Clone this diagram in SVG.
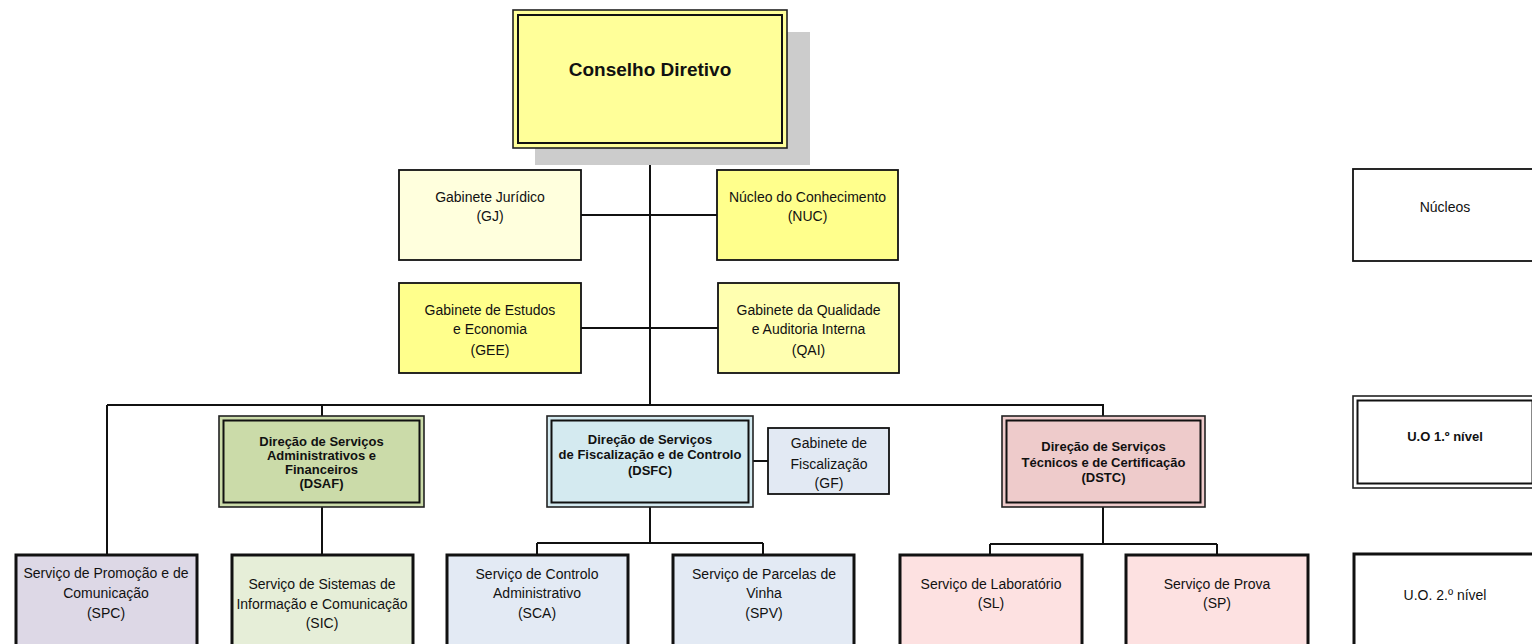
<svg xmlns="http://www.w3.org/2000/svg" width="1532" height="644" viewBox="0 0 1532 644">
<style>
text{font-family:"Liberation Sans",Arial,sans-serif;fill:#111;text-anchor:middle}
.n{font-size:14px}
.b{font-size:13px;font-weight:bold}
.t{font-size:19px;font-weight:bold}
.thin{stroke:#111;stroke-width:1.8}
.thick{stroke:#111;stroke-width:3}
.o{stroke:#222;stroke-width:1.6}
.i{fill:none;stroke:#111;stroke-width:2}
.c{fill:none;stroke:#111;stroke-width:2}
</style>
<rect width="1532" height="644" fill="#fff"/>
<g id="connectors">
<path class="c" d="M650 148V405M581 215H717M581 328H718M107 405H1104M107 405V554M322 405V416M1103 405V416M322 507V554M753 461H768M650 507V543M537 543H763M537 543V554M763 543V554M1103 507V544M990 544H1217M990 544V554M1217 544V554"/>
</g>
<g id="conselho">
<rect x="535" y="32" width="275" height="133" fill="#cccccc"/>
<rect x="513" y="10" width="274" height="138" fill="#ffff99" stroke="#222" stroke-width="1.6"/>
<rect x="518" y="15" width="264" height="128" class="i"/>
<text class="t" x="650" y="76">Conselho Diretivo</text>
</g>
<g id="gj">
<rect x="399" y="170" width="182" height="90" fill="#ffffdd" class="thin"/>
<text class="n" x="490" y="202">Gabinete Jurídico</text>
<text class="n" x="490" y="221">(GJ)</text>
</g>
<g id="nuc">
<rect x="717" y="170" width="181" height="90" fill="#ffff8c" class="thin"/>
<text class="n" x="807.5" y="202">Núcleo do Conhecimento</text>
<text class="n" x="807.5" y="221">(NUC)</text>
</g>
<g id="gee">
<rect x="399" y="283" width="182" height="90" fill="#ffff8c" class="thin"/>
<text class="n" x="490" y="315">Gabinete de Estudos</text>
<text class="n" x="490" y="334">e Economia</text>
<text class="n" x="490" y="355">(GEE)</text>
</g>
<g id="qai">
<rect x="718" y="283" width="181" height="90" fill="#ffffb0" class="thin"/>
<text class="n" x="808.5" y="315">Gabinete da Qualidade</text>
<text class="n" x="808.5" y="334">e Auditoria Interna</text>
<text class="n" x="808.5" y="355">(QAI)</text>
</g>
<g id="dsaf">
<rect x="219" y="416" width="205" height="91" fill="#cbdba9" class="o"/>
<rect x="223.5" y="420.5" width="196" height="82" class="i"/>
<text class="b" x="321.5" y="446">Direção de Serviços</text>
<text class="b" x="321.5" y="460">Administrativos e</text>
<text class="b" x="321.5" y="474">Financeiros</text>
<text class="b" x="321.5" y="488">(DSAF)</text>
</g>
<g id="dsfc">
<rect x="547" y="416" width="206" height="91" fill="#d4eaf0" class="o"/>
<rect x="551.5" y="420.5" width="197" height="82" class="i"/>
<text class="b" x="650" y="444">Direção de Serviços</text>
<text class="b" x="650" y="459">de Fiscalização e de Controlo</text>
<text class="b" x="650" y="475">(DSFC)</text>
</g>
<g id="gf">
<rect x="768" y="428" width="121" height="66" fill="#e2e9f3" class="thin"/>
<text class="n" x="829" y="448">Gabinete de</text>
<text class="n" x="829" y="469">Fiscalização</text>
<text class="n" x="829" y="488">(GF)</text>
</g>
<g id="dstc">
<rect x="1002" y="416" width="203" height="91" fill="#eecbcb" class="o"/>
<rect x="1006.5" y="420.5" width="194" height="82" class="i"/>
<text class="b" x="1103.5" y="451">Direção de Serviços</text>
<text class="b" x="1103.5" y="467">Técnicos e de Certificação</text>
<text class="b" x="1103.5" y="482">(DSTC)</text>
</g>
<g id="spc">
<rect x="16" y="555" width="181" height="105" fill="#ddd8e6" class="thick"/>
<text class="n" x="106" y="578">Serviço de Promoção e de</text>
<text class="n" x="106" y="598">Comunicação</text>
<text class="n" x="106" y="618">(SPC)</text>
</g>
<g id="sic">
<rect x="232" y="555" width="181" height="105" fill="#e6eed8" class="thick"/>
<text class="n" x="322" y="589">Serviço de Sistemas de</text>
<text class="n" x="322" y="609">Informação e Comunicação</text>
<text class="n" x="322" y="628">(SIC)</text>
</g>
<g id="sca">
<rect x="447" y="555" width="181" height="105" fill="#e3eaf4" class="thick"/>
<text class="n" x="537" y="579">Serviço de Controlo</text>
<text class="n" x="537" y="598">Administrativo</text>
<text class="n" x="537" y="618">(SCA)</text>
</g>
<g id="spv">
<rect x="673" y="555" width="181" height="105" fill="#e3eaf4" class="thick"/>
<text class="n" x="764" y="579">Serviço de Parcelas de</text>
<text class="n" x="764" y="598">Vinha</text>
<text class="n" x="764" y="618">(SPV)</text>
</g>
<g id="sl">
<rect x="900" y="555" width="182" height="105" fill="#fde1e1" class="thick"/>
<text class="n" x="991" y="589">Serviço de Laboratório</text>
<text class="n" x="991" y="608">(SL)</text>
</g>
<g id="sp">
<rect x="1126" y="555" width="182" height="105" fill="#fde1e1" class="thick"/>
<text class="n" x="1217" y="589">Serviço de Prova</text>
<text class="n" x="1217" y="608">(SP)</text>
</g>
<g id="legend-nucleos">
<rect x="1353" y="169" width="184" height="92" fill="#fff" class="thin"/>
<text class="n" x="1445" y="212">Núcleos</text>
</g>
<g id="legend-uo1">
<rect x="1353" y="396" width="184" height="92" fill="#fff" class="o"/>
<rect x="1357.5" y="400.5" width="175" height="83" class="i"/>
<text class="b" x="1445" y="441">U.O 1.º nível</text>
</g>
<g id="legend-uo2">
<rect x="1354" y="554" width="184" height="100" fill="#fff" class="thick"/>
<text class="n" x="1445" y="600">U.O. 2.º nível</text>
</g>
</svg>
